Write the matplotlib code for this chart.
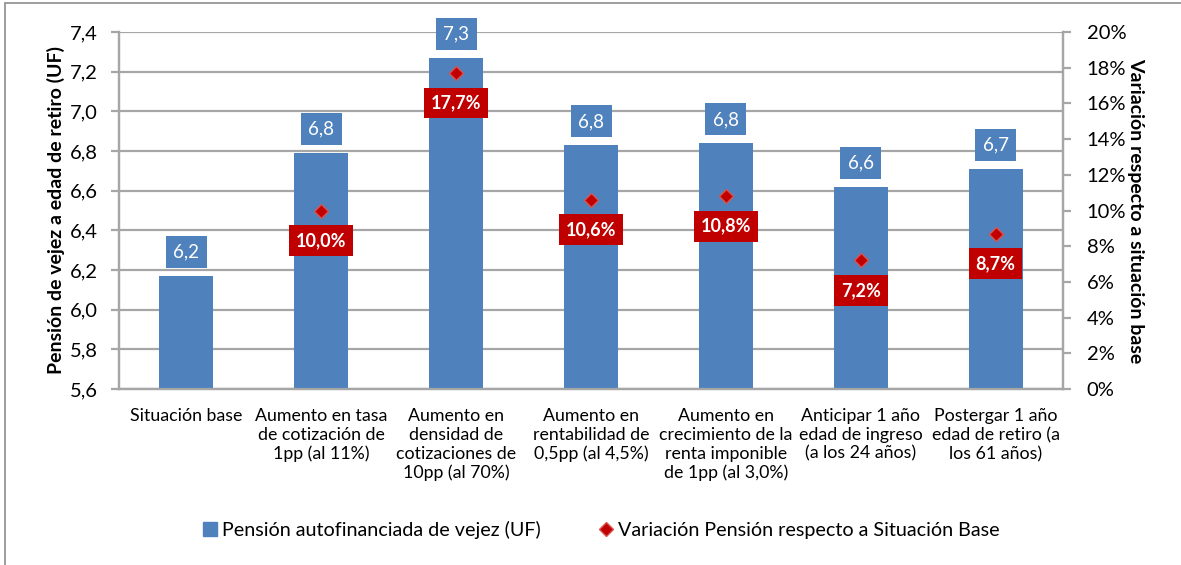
import matplotlib
matplotlib.use("Agg")
import matplotlib.pyplot as plt
import numpy as np
from matplotlib.patches import Rectangle
from matplotlib.lines import Line2D
from matplotlib.ticker import FuncFormatter, MultipleLocator

plt.rcParams['font.family'] = ['Lato', 'DejaVu Sans']

categories = ["Situación base",
              "Aumento en tasa\nde cotización de\n1pp (al 11%)",
              "Aumento en\ndensidad de\ncotizaciones de\n10pp (al 70%)",
              "Aumento en\nrentabilidad de\n0,5pp (al 4,5%)",
              "Aumento en\ncrecimiento de la\nrenta imponible\nde 1pp (al 3,0%)",
              "Anticipar 1 año\nedad de ingreso\n(a los 24 años)",
              "Postergar 1 año\nedad de retiro (a\nlos 61 años)"]
pension = [6.17, 6.79, 7.27, 6.83, 6.84, 6.62, 6.71]
variacion = [np.nan, 10.0, 17.7, 10.6, 10.8, 7.2, 8.7]

W, H = 1181, 565
fig = plt.figure(figsize=(W/100, H/100), dpi=100)
ax = fig.add_axes([119/W, (H-389)/H, (1063-119)/W, (389-32)/H])
ax2 = ax.twinx()

x = np.arange(len(categories))
blue = '#4f81bd'
red = '#c00000'
grid_c = '#a6a6a6'

ax.bar(x, pension, width=0.40, color=blue, zorder=3)
ax.set_ylim(5.6, 7.4)
ax.set_xlim(-0.5, len(categories)-0.5)
ax.yaxis.set_major_locator(MultipleLocator(0.2))
ax.yaxis.set_major_formatter(FuncFormatter(lambda v, p: f"{v:.1f}".replace('.', ',')))
ax.grid(axis='y', color=grid_c, linewidth=1.6, zorder=0)
ax.set_axisbelow(True)

for i, v in enumerate(pension):
    ax.annotate(f"{v:.1f}".replace('.', ','), (i, v), xytext=(0, 17), textcoords='offset points',
                ha='center', va='center', fontsize=13.5, color='white', zorder=6,
                bbox=dict(boxstyle='square,pad=0.4', fc=blue, ec='none'))

ax2.set_ylim(0, 20)
ax2.yaxis.set_major_locator(MultipleLocator(2))
ax2.yaxis.set_major_formatter(FuncFormatter(lambda v, p: f"{v:.0f}%"))
ax2.plot(x, variacion, linestyle='none', marker='D', markersize=7.5, color=red,
         markeredgecolor='#d9534f', markeredgewidth=1.0, zorder=5)
for i, v in enumerate(variacion):
    if np.isnan(v):
        continue
    ax2.annotate(f"{v:.1f}%".replace('.', ','), (i, v), xytext=(0, -21.6), textcoords='offset points',
                 ha='center', va='center', fontsize=13, color='white', fontweight='bold', zorder=6,
                 bbox=dict(boxstyle='square,pad=0.38', fc=red, ec='none'))

for a in (ax, ax2):
    a.spines['top'].set_visible(False)
    for s in ('left', 'right', 'bottom'):
        a.spines[s].set_color(grid_c)
        a.spines[s].set_linewidth(1.6)
    a.tick_params(axis='y', color=grid_c, width=1.6, length=6, labelsize=14.5, labelcolor='black')
ax.tick_params(axis='y', pad=9)
ax2.tick_params(axis='y', pad=11)

ax.set_xticks(x)
ax.set_xticklabels(categories, fontsize=12.8, linespacing=1.2)
ax.tick_params(axis='x', length=0, pad=14)

ax.set_ylabel("Pensión de vejez a edad de retiro (UF)", fontsize=14, fontweight='bold', labelpad=4)
ax2.set_ylabel("Variación respecto a situación base", fontsize=14, fontweight='bold',
               rotation=270, labelpad=13)

handles = [Line2D([], [], linestyle='none', marker='s', markersize=10, color=blue),
           Line2D([], [], linestyle='none', marker='D', markersize=7, color=red,
                  markeredgecolor='#d9534f')]
fig.legend(handles, ["Pensión autofinanciada de vejez (UF)", "Variación Pensión respecto a Situación Base"],
           loc='center', bbox_to_anchor=(600/W, 1-530/H), ncol=2, frameon=False, fontsize=14.2,
           handletextpad=0.1, columnspacing=2.8, handlelength=1.0)

fig.patches.append(Rectangle((5/W, -0.05), 1.2, 1.05 - 3/H, transform=fig.transFigure,
                             fill=False, ec='#8c8c8c', lw=1.2))

fig.savefig("out.png", dpi=100)
